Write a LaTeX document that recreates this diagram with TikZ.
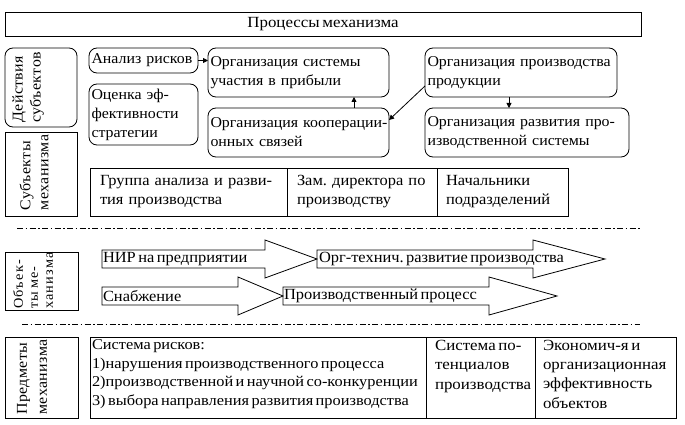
\documentclass[tikz,border=0pt]{standalone}
\usepackage{fontspec}
\setmainfont{Liberation Serif}[FakeStretch=1.06, WordSpace=0.6]
\newfontfamily\widefont{Liberation Serif}[FakeStretch=1.09, WordSpace=0.6]
\frenchspacing
\newcommand\nwl[1]{\mbox{#1}}
\usetikzlibrary{arrows.meta,calc}
\begin{document}
\begin{tikzpicture}[x=1pt,y=-1pt,
  every node/.style={font=\fontsize{15.5}{19}\selectfont, inner sep=0pt, outer sep=0pt},
  ln/.style={line width=0.8pt},
  rbox/.style={draw, ln, rounded corners=8pt, anchor=north west, align=left, inner xsep=2.5pt, font=\fontsize{15}{19}\selectfont},
  sbox/.style={draw, ln, anchor=north west, align=left, inner xsep=2.5pt},
  lab/.style={rotate=90, align=left, font=\fontsize{15}{18}\selectfont\addfontfeature{LetterSpace=3}},
  arr/.style={ln, -{Triangle[length=5pt,width=5pt]}},
  blk/.style={draw, ln, line join=miter},
  sep/.style={ln, dash pattern=on 6pt off 2.5pt on 1.5pt off 2.5pt},
  txt/.style={anchor=west},
  wtxt/.style={anchor=north west, align=left, font=\widefont\fontsize{15.5}{19}\selectfont}
]
\useasboundingbox (0,0) rectangle (685,425);

% top
\node[sbox, align=center, minimum width=636pt, minimum height=24pt, font=\widefont\fontsize{15.5}{19}\selectfont] (top) at (5,12) {Процессы механизма};

% left labels
\node[draw, ln, rounded corners=8pt, anchor=north west, minimum width=72pt, minimum height=79pt] (actbox) at (5,48) {};
\node[lab] (acttxt) at (28,87.5) {Действия\\субъектов};
\node[draw, ln, anchor=north west, minimum width=72pt, minimum height=84pt] (subbox) at (5,132) {};
\node[lab] (subtxt) at (34,172.5) {Субъекты\\механизма};
\node[draw, ln, anchor=north west, minimum width=73pt, minimum height=58pt] (objbox) at (5,252) {};
\node[lab, font=\fontsize{13.5}{15}\selectfont\addfontfeature{LetterSpace=9}] (objtxt) at (33,280.5) {Объек-\\ты ме-\\ханизма};
\node[draw, ln, anchor=north west, minimum width=73pt, minimum height=81pt] (prbox) at (5,337) {};
\node[lab, font=\fontsize{15}{20}\selectfont\addfontfeature{LetterSpace=3}] (prtxt) at (32,377) {Предметы\\механизма};

% actions
\node[rbox, minimum width=109pt, minimum height=25pt, text width=104pt] (anal) at (89,48) {\nwl{Анализ рисков}};
\node[rbox, minimum width=109pt, minimum height=61pt, text width=104pt] (ocen) at (89,84) {Оценка эф-\\фективности\\стратегии};
\node[rbox, minimum width=181pt, minimum height=49pt, text width=176pt] (orgsys) at (208,48) {\nwl{Организация системы}\\участия в прибыли};
\node[rbox, minimum width=181pt, minimum height=49pt, text width=176pt] (coop) at (208,108) {\nwl{Организация кооперации-}\\онных связей};
\node[rbox, minimum width=192pt, minimum height=49pt, text width=187pt] (prod) at (425,48) {\nwl{Организация производства}\\продукции};
\node[rbox, minimum width=204pt, minimum height=49pt, text width=199pt] (dev) at (425,108) {\nwl{Организация развития про-}\\изводственной системы};

\draw[arr] (anal.east) -- (anal.east -| orgsys.west);
\draw[arr] ($(coop.north)+(55.5,0)$) -- ($(orgsys.south)+(55.5,0)$);
\draw[arr] ($(prod.south)+(-12,0)$) -- ($(dev.north)+(-18,0)$);
\draw[ln, -{Triangle[length=5pt,width=5pt]}] ([yshift=-13.5pt]prod.west) -- ([yshift=12.5pt]coop.east);

% subjects table
\node[sbox, minimum width=197pt, minimum height=48pt, text width=197pt, inner xsep=0pt] (c1) at (90,168) {\hspace*{10pt}Группа анализа и разви-\\\hspace*{10pt}тия производства};
\node[sbox, minimum width=150pt, minimum height=48pt, text width=150pt, inner xsep=0pt] (c2) at (287,168) {\hspace*{10pt}Зам. директора по\\\hspace*{10pt}производству};
\node[sbox, minimum width=131pt, minimum height=48pt, text width=131pt, inner xsep=0pt] (c3) at (437,168) {\hspace*{9pt}Начальники\\\hspace*{9pt}подразделений};

% separators
\coordinate (s1a) at (17,228); \coordinate (s1b) at (640,228);
\draw[sep] (s1a) -- (s1b);
\coordinate (s2a) at (22,324); \coordinate (s2b) at (640,324);
\draw[sep] (s2a) -- (s2b);

% objects arrows
\draw[blk] (102,250) -- (265,250) -- (265,240) -- (317,259) -- (265,278) -- (265,268) -- (102,268) -- cycle;
\node[txt] (nir) at (103,259) {НИР на предприятии};
\draw[blk] (317,250) -- (533,250) -- (533,240) -- (605,259) -- (533,278) -- (533,268) -- (317,268) -- cycle;
\node[txt] (orgt) at (319,259) {Орг-технич. развитие производства};
\draw[blk] (102,287) -- (238,287) -- (238,277) -- (283,296) -- (238,315) -- (238,305) -- (102,305) -- cycle;
\node[txt] (snab) at (103,296) {Снабжение};
\draw[blk] (283,287) -- (489,287) -- (489,277) -- (557,296) -- (489,315) -- (489,305) -- (283,305) -- cycle;
\node[txt] (proc) at (284,296) {Производственный процесс};

% subjects-of-mechanism table
\node[draw, ln, anchor=north west, minimum width=336pt, minimum height=81pt] (d1) at (90,337) {};
\node[draw, ln, anchor=north west, minimum width=109pt, minimum height=81pt] (d2) at (426,337) {};
\node[draw, ln, anchor=north west, minimum width=141pt, minimum height=81pt] (d3) at (535,337) {};
\node[wtxt, font=\widefont\fontsize{15}{18.5}\selectfont] (t1) at (92,340) {Система рисков:\\1)нарушения производственного процесса\\2)производственной и научной со-конкуренции\\3) выбора направления развития производства};
\node[wtxt, font=\widefont\fontsize{15.5}{19.5}\selectfont] (t2) at (435,340) {Система по-\\тенциалов\\производства};
\node[wtxt, font=\widefont\fontsize{15.5}{19.3}\selectfont] (t3) at (543,340) {Экономич-я и\\организационная\\эффективность\\объектов};
\end{tikzpicture}
\end{document}
